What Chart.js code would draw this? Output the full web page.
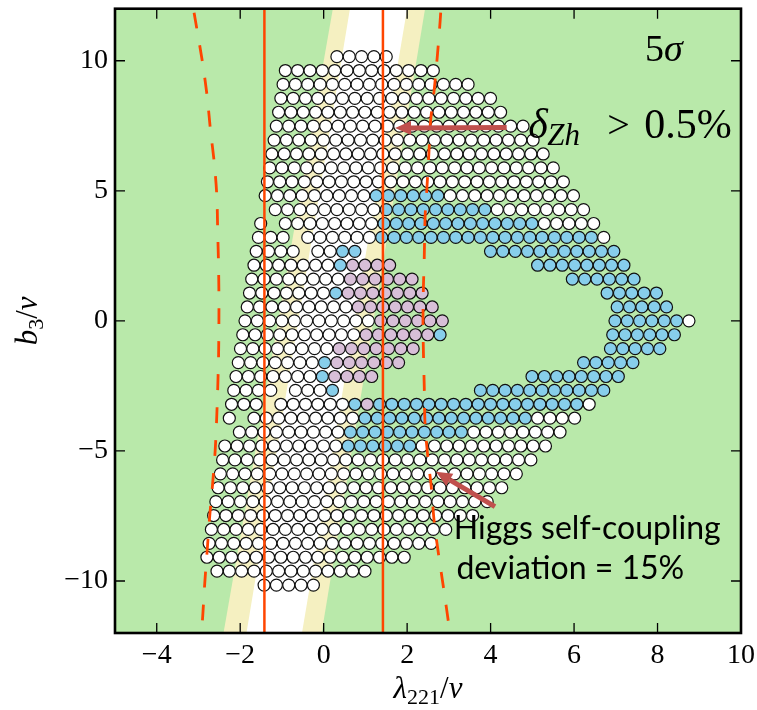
<!DOCTYPE html>
<html><head><meta charset="utf-8">
<script src="https://cdn.jsdelivr.net/npm/chart.js@4.4.1/dist/chart.umd.min.js"></script>
<style>html,body{margin:0;padding:0;background:#fff;}canvas{display:block;}</style>
</head><body>
<canvas id="c" width="757" height="710"></canvas>
<script>
// ---------------- data ----------------
const xTicks = [-4, -2, 0, 2, 4, 6, 8, 10];
const yTicks = [-10, -5, 0, 5, 10];
const xRange = [-5, 10];
const yRange = [-12, 12];

// scan grid of the points (lambda221/v , b3/v)
const gridX0 = -1.885;     // x of column 0 in row 0
const gridDX = 0.2955;     // column spacing
const gridShear = 0.0537;  // x shift per row
const gridDY = 0.5346;     // row spacing
const topRow = 19;
// run-length rows, top to bottom: W white, B blue, P pink, . none
const rows = [
  "4.5W", "13W", "16W", "18W", "19W", "21W", "22W", "23W", "24W", "25W",
  "9W6B11W",
  "1.9W9B8W",
  "1W1.8W13B5W",
  "3W1.6W18B1W",
  "4W1.2W2B10.11B",
  "7W1B4P11.8B",
  "8W6P12.6B",
  "7W1B7P14.5B",
  "9W7P14.5B",
  "11W6P13.6B1W",
  "10W6P1B13.6B",
  "8W7P15.5B",
  "7W1B6P14.5B",
  "7W1B4P12.8B",
  "4W1.3W1B11.11B",
  "3W1.6W1B1P17B1W",
  "1W1.9W14B4W",
  "1.9W10B8W",
  "10W6B11W",
  "26W", "25W", "24W", "23W", "22W", "20W", "19W", "17W", "1.13W", "5.5W"
];

// vertical solid lines
const solidX = [-1.42, 1.42];
// dashed contours
const dashLeftY = [12, 11.8, 9.9, 8.6, 7.3, 6.05, 4.8, 3.5, 2.2, 1.0, 0, -1.5, -3.6, -5.0, -6.25, -7.5, -8.8, -10.1, -11.4, -12];
const dashLeftX = [-3.12, -3.10, -2.90, -2.79, -2.71, -2.62, -2.56, -2.54, -2.52, -2.51, -2.51, -2.52, -2.56, -2.60, -2.66, -2.73, -2.79, -2.85, -2.90, -2.93];
const dashRightY = [12, 11.5, 10.3, 8.9, 7.65, 6.4, 5.0, 4.0, 2.4, 1.3, 0, -1.2, -2.5, -4.0, -5.3, -6.4, -7.75, -9.0, -10.35, -11.7, -12];
const dashRightX = [2.81, 2.79, 2.73, 2.65, 2.56, 2.52, 2.47, 2.43, 2.41, 2.39, 2.38, 2.39, 2.41, 2.43, 2.50, 2.58, 2.65, 2.755, 2.88, 3.0, 3.02];

// bands: x at y=-12 and at y=+12
const bandYellowL = [-2.40, 0.22];
const bandWhiteL = [-1.85, 0.63];
const bandWhiteR = [-0.52, 2.00];
const bandYellowR = [-0.05, 2.43];

// ---------------- styles ----------------
const GREEN = '#b9e9aa', YELLOW = '#f5f0c1', RED = '#ff4500', ARROW = '#c0504d';
const SERIF = '"Liberation Serif", "DejaVu Serif", serif';

function parseRow(code) {
  const out = []; const re = /(\d+)([WBP.])/g; let m;
  while ((m = re.exec(code))) for (let i = 0; i < +m[1]; i++) out.push(m[2]);
  return out;
}
const pts = {W: [], B: [], P: []};
rows.forEach((code, r) => {
  const j = topRow - r;
  parseRow(code).forEach((s, k) => {
    if (s === '.') return;
    pts[s].push({x: gridX0 + gridDX * k + gridShear * j, y: gridDY * j});
  });
});

const fmt = v => (v < 0 ? '\u2212' + Math.abs(v) : String(v));

const bandsPlugin = {
  id: 'bands',
  beforeDatasetsDraw(chart) {
    const {ctx, chartArea: a, scales: {x, y}} = chart;
    ctx.save();
    ctx.beginPath(); ctx.rect(a.left, a.top, a.width, a.height); ctx.clip();
    ctx.fillStyle = GREEN; ctx.fillRect(a.left, a.top, a.width, a.height);
    const poly = (L, R, color) => {
      ctx.beginPath();
      ctx.moveTo(x.getPixelForValue(L[0]), y.getPixelForValue(yRange[0]));
      ctx.lineTo(x.getPixelForValue(L[1]), y.getPixelForValue(yRange[1]));
      ctx.lineTo(x.getPixelForValue(R[1]), y.getPixelForValue(yRange[1]));
      ctx.lineTo(x.getPixelForValue(R[0]), y.getPixelForValue(yRange[0]));
      ctx.closePath(); ctx.fillStyle = color; ctx.fill();
    };
    poly(bandYellowL, bandYellowR, YELLOW);
    poly(bandWhiteL, bandWhiteR, '#ffffff');
    ctx.restore();
  }
};

function runs(ctx, x, y, parts) {
  let cx = x;
  parts.forEach(p => {
    ctx.font = p.font;
    const px = (p.dx !== undefined) ? x + p.dx : cx;
    ctx.fillText(p.t, px, y + (p.dy || 0));
    cx = px + ctx.measureText(p.t).width;
  });
  return cx - x;
}
function measureRuns(ctx, parts) {
  let w = 0; parts.forEach(p => { ctx.font = p.font; w += ctx.measureText(p.t).width; }); return w;
}
function arrow(ctx, x1, y1, x2, y2, w, hl, hw) {
  const a = Math.atan2(y2 - y1, x2 - x1);
  const bx = x2 - hl * Math.cos(a), by = y2 - hl * Math.sin(a);
  ctx.lineWidth = w; ctx.lineCap = 'butt';
  ctx.beginPath(); ctx.moveTo(x1, y1); ctx.lineTo(bx, by); ctx.stroke();
  ctx.beginPath(); ctx.moveTo(x2, y2);
  ctx.lineTo(bx + hw * Math.sin(a), by - hw * Math.cos(a));
  ctx.lineTo(bx - hw * Math.sin(a), by + hw * Math.cos(a));
  ctx.closePath(); ctx.fill();
}

const overlayPlugin = {
  id: 'overlay',
  afterDatasetsDraw(chart) {
    const {ctx, scales: {x, y}} = chart;
    const X = v => x.getPixelForValue(v), Y = v => y.getPixelForValue(v);
    ctx.save();
    ctx.strokeStyle = ARROW; ctx.fillStyle = ARROW;
    arrow(ctx, X(4.385), Y(7.43), X(1.71), Y(7.41), 5, 16, 7);
    arrow(ctx, X(4.105), Y(-7.14), X(2.69), Y(-5.80), 5, 16, 7);
    ctx.fillStyle = '#000'; ctx.textBaseline = 'alphabetic'; ctx.textAlign = 'left';
    // 5 sigma
    runs(ctx, X(7.70), Y(9.98), [
      {t: '5', font: '38px ' + SERIF},
      {t: '\u03C3', font: 'italic 38px ' + SERIF}
    ]);
    // delta_Zh > 0.5%
    const dx0 = X(4.90), dy0 = Y(7.02);
    runs(ctx, dx0, dy0, [
      {t: '\u03B4', font: 'italic 42px ' + SERIF, dx: 0},
      {t: 'Zh', font: 'italic 31px ' + SERIF, dx: 19, dy: 7},
      {t: '>', font: '40px ' + SERIF, dx: 79},
      {t: '0.5%', font: '42px ' + SERIF, dx: 116}
    ]);
    // Higgs text
    ctx.font = '32px Lato';
    const wH = ctx.measureText('Higgs self-coupling').width;
    const sz = 32 * 267 / wH;
    ctx.font = sz.toFixed(2) + 'px Lato';
    ctx.fillText('Higgs self-coupling', X(3.12), Y(-8.37));
    ctx.fillText('deviation = 15%', X(3.18), Y(-9.92));
    ctx.restore();
  },
  afterDraw(chart) {
    const {ctx, chartArea: a, scales: {x, y}} = chart;
    ctx.save();
    ctx.strokeStyle = '#000'; ctx.lineWidth = 1.3;
    ctx.beginPath();
    xTicks.forEach(v => {
      const p = x.getPixelForValue(v);
      ctx.moveTo(p, a.bottom); ctx.lineTo(p, a.bottom - 10);
      ctx.moveTo(p, a.top); ctx.lineTo(p, a.top + 10);
    });
    yTicks.forEach(v => {
      const p = y.getPixelForValue(v);
      ctx.moveTo(a.left, p); ctx.lineTo(a.left + 10, p);
      ctx.moveTo(a.right, p); ctx.lineTo(a.right - 10, p);
    });
    ctx.stroke();
    ctx.lineWidth = 2.6;
    ctx.strokeRect(a.left, a.top, a.right - a.left, a.bottom - a.top);
    // axis titles
    ctx.fillStyle = '#000'; ctx.textBaseline = 'alphabetic'; ctx.textAlign = 'left';
    const xt = [
      {t: '\u03BB', font: 'italic 31px ' + SERIF},
      {t: '221', font: '22px ' + SERIF, dy: 6},
      {t: '/', font: '31px ' + SERIF},
      {t: 'v', font: 'italic 31px ' + SERIF}
    ];
    const wx = measureRuns(ctx, xt);
    runs(ctx, (a.left + a.right) / 2 - wx / 2, 698, xt);
    const yt = [
      {t: 'b', font: 'italic 31px ' + SERIF},
      {t: '3', font: '22px ' + SERIF, dy: 6},
      {t: '/', font: '31px ' + SERIF},
      {t: 'v', font: 'italic 31px ' + SERIF}
    ];
    const wy = measureRuns(ctx, yt);
    ctx.translate(37, (a.top + a.bottom) / 2);
    ctx.rotate(-Math.PI / 2);
    runs(ctx, -wy / 2, 0, yt);
    ctx.restore();
  }
};

const lineDs = (data, opts) => Object.assign({
  data, showLine: true, borderColor: RED, pointRadius: 0, pointHoverRadius: 0, fill: false, order: 0
}, opts);
const dotDs = (data, color, order) => ({
  data, backgroundColor: color, borderColor: '#111', borderWidth: 1.2,
  pointRadius: 6, pointHoverRadius: 6, pointBorderWidth: 1.2, order
});

new Chart(document.getElementById('c'), {
  type: 'scatter',
  data: {
    datasets: [
      lineDs(yRange.map(v => ({x: solidX[0], y: v})), {borderWidth: 2.5}),
      lineDs(yRange.map(v => ({x: solidX[1], y: v})), {borderWidth: 2.5}),
      lineDs(dashLeftY.map((v, i) => ({x: dashLeftX[i], y: v})), {borderWidth: 2.8, borderDash: [16, 17], borderDashOffset: 29, tension: 0.3}),
      lineDs(dashRightY.map((v, i) => ({x: dashRightX[i], y: v})), {borderWidth: 2.8, borderDash: [16, 17], borderDashOffset: 29, tension: 0.3}),
      dotDs(pts.W, '#ffffff', 5),
      dotDs(pts.B, '#87ceeb', 4),
      dotDs(pts.P, '#d8bfd8', 3)
    ]
  },
  options: {
    responsive: false, animation: false, devicePixelRatio: 1, events: [],
    layout: {padding: {left: 0, right: 16, top: 8.7, bottom: 0}},
    plugins: {legend: {display: false}, tooltip: {enabled: false}},
    scales: {
      x: {
        type: 'linear', min: xRange[0], max: xRange[1],
        afterBuildTicks: s => { s.ticks = xTicks.map(v => ({value: v})); },
        afterFit: s => { s.height = 77; s.paddingLeft = 0; s.paddingRight = 0; },
        grid: {display: false, drawTicks: false}, border: {display: false},
        ticks: {font: {size: 28, family: SERIF}, color: '#000', padding: 6, maxRotation: 0, autoSkip: false, callback: fmt}
      },
      y: {
        type: 'linear', min: yRange[0], max: yRange[1],
        afterBuildTicks: s => { s.ticks = yTicks.map(v => ({value: v})); },
        afterFit: s => { s.width = 115; s.paddingTop = 0; s.paddingBottom = 0; },
        grid: {display: false, drawTicks: false}, border: {display: false},
        ticks: {font: {size: 28, family: SERIF}, color: '#000', padding: 7, autoSkip: false, callback: fmt}
      }
    }
  },
  plugins: [bandsPlugin, overlayPlugin]
});
</script>
</body></html>
